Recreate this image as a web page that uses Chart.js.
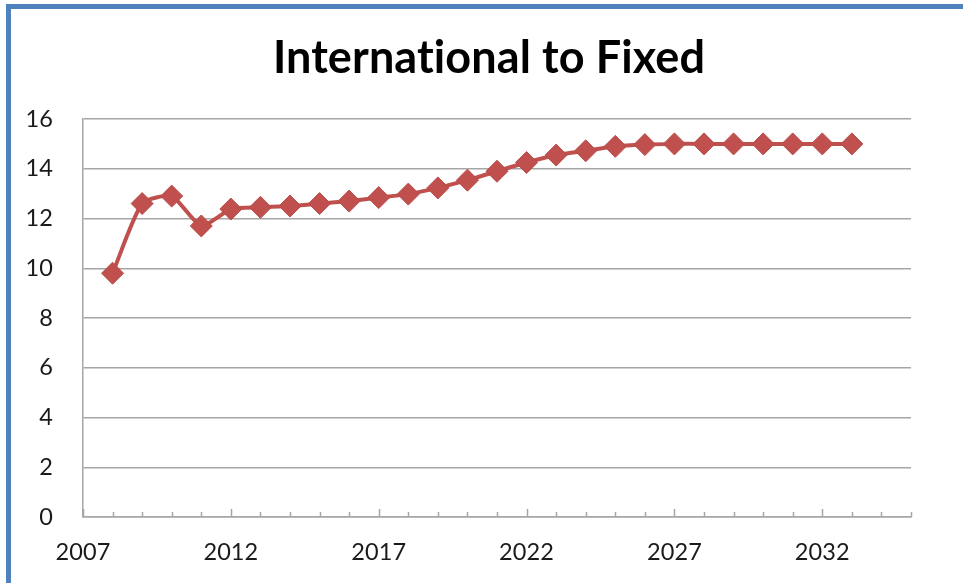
<!DOCTYPE html>
<html>
<head>
<meta charset="utf-8">
<script src="https://cdn.jsdelivr.net/npm/chart.js@4"></script>
<style>
  html, body { margin: 0; padding: 0; background: #fff; }
  #wrap { position: relative; width: 963px; height: 583px; overflow: hidden; }
  #frame {
    position: absolute; left: 6px; top: 4px; width: 980px; height: 575px;
    border-left: 5px solid #4F81BD; border-top: 5px solid #4F81BD;
    border-bottom: 3px solid #4F81BD; pointer-events: none;
  }
  canvas { position: absolute; left: 0; top: 0; }
</style>
</head>
<body>
<div id="wrap">
  <canvas id="lineChart" width="963" height="583"></canvas>
  <div id="frame"></div>
</div>
<script>
// years and values
const years = [2008, 2009, 2010, 2011, 2012, 2013, 2014, 2015, 2016, 2017, 2018, 2019, 2020,
               2021, 2022, 2023, 2024, 2025, 2026, 2027, 2028, 2029, 2030, 2031, 2032, 2033];
const values = [9.8, 12.6, 12.9, 11.7, 12.38, 12.45, 12.5, 12.6, 12.7, 12.84, 12.98, 13.23, 13.54,
                13.9, 14.25, 14.55, 14.72, 14.9, 14.97, 15.0, 15.0, 15.0, 15.0, 15.0, 15.0, 15.0];
const xTickLabels = [2007, 2012, 2017, 2022, 2027, 2032];
const xMin = 2007;
const xMax = 2035;

const gridGrey = '#A6A6A6';
const lineRed = '#C0504D';

// a tiny letter spacing keeps Lato from joining "ti" into a ligature
// (has to be set after Chart.js sizes the canvas, that resets the context)
const noLigatures = {
    id: 'noLigatures',
    beforeDraw(chart) {
        chart.ctx.letterSpacing = '0.1px';
    }
};

// the title in the picture sits a bit right of the canvas centre
const shiftTitle = {
    id: 'shiftTitle',
    afterLayout(chart) {
        const t = chart.titleBlock;
        if (t) { t.left += 27; t.right += 27; }
    }
};

// small tick marks standing up from the x axis, one per year
const yearTicks = {
    id: 'yearTicks',
    afterDatasetsDraw(chart) {
        const x = chart.scales.x;
        const y0 = chart.scales.y.getPixelForValue(0);
        const c = chart.ctx;
        c.save();
        c.strokeStyle = gridGrey;
        c.lineWidth = 1.5;
        for (let yr = xMin; yr <= xMax; yr++) {
            const px = Math.round(x.getPixelForValue(yr)) + 0.5;
            const len = xTickLabels.includes(yr) ? 8 : 5;
            c.beginPath();
            c.moveTo(px, y0);
            c.lineTo(px, y0 - len);
            c.stroke();
        }
        c.restore();
    }
};

const ctx = document.getElementById('lineChart').getContext('2d');

new Chart(ctx, {
    type: 'line',
    data: {
        datasets: [{
            label: 'International to Fixed',
            data: years.map((yr, i) => ({ x: yr, y: values[i] })),
            borderColor: lineRed,
            backgroundColor: lineRed,
            borderWidth: 4,
            tension: 0.2,
            pointStyle: 'rectRot',
            pointRadius: 11,
            pointBorderWidth: 1,
            pointBorderColor: '#B84C49',
            pointBackgroundColor: lineRed,
            fill: false
        }]
    },
    options: {
        responsive: false,
        animation: false,
        layout: { padding: { left: 13, right: 52, top: 0, bottom: 6 } },
        plugins: {
            legend: { display: false },
            tooltip: { enabled: false },
            title: {
                display: true,
                text: 'International to Fixed',
                color: '#000',
                font: { family: 'Lato', size: 45, weight: 'bold', lineHeight: 1.2 },
                padding: { top: 31, bottom: 34 }
            }
        },
        scales: {
            x: {
                type: 'linear',
                min: xMin,
                max: xMax,
                afterBuildTicks: scale => { scale.ticks = xTickLabels.map(v => ({ value: v })); },
                afterFit: scale => { scale.height = 60; },
                grid: { display: false, drawTicks: false },
                border: { display: true, color: gridGrey, width: 1.5 },
                ticks: {
                    callback: v => String(v),
                    color: '#1a1a1a',
                    font: { family: 'Lato', size: 23.5 },
                    padding: 21,
                    maxRotation: 0,
                    autoSkip: false
                }
            },
            y: {
                min: 0,
                max: 16,
                afterFit: scale => { scale.width = 70; },
                grid: { color: gridGrey, lineWidth: 1.5, drawTicks: false },
                border: { display: true, color: gridGrey, width: 1.5 },
                ticks: {
                    stepSize: 2,
                    color: '#1a1a1a',
                    font: { family: 'Lato', size: 23.5 },
                    padding: 30
                }
            }
        }
    },
    plugins: [noLigatures, shiftTitle, yearTicks]
});
</script>
</body>
</html>
